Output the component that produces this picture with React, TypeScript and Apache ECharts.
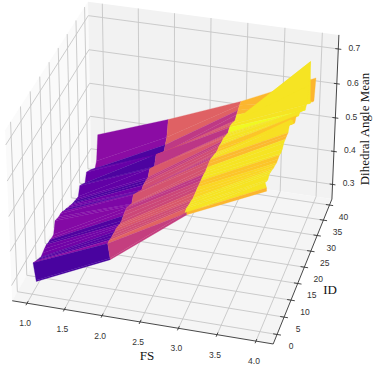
import React, { useEffect, useRef } from "react";
import * as echarts from "echarts";

const FS = [1, 2, 3, 4];
const ID_ROWS = [2.3,2.2,1,2,3,4,5,6,7,8,9,10,11,12,13,14,15,16,17,18,19,20,21,22,23,24,25,26,27,28,29,30,31,32,33,34,35,36,37,38];
const FS_TICKS = [1, 1.5, 2, 2.5, 3, 3.5, 4];
const ID_TICKS = [0, 5, 10, 15, 20, 25, 30, 35, 40];
const Z_TICKS = [0.3, 0.4, 0.5, 0.6, 0.7];
const LIM = { x: [0.8, 4.22], y: [-2.7, 42], z: [0.255, 0.74] };

const Z1 = [.27,.275,.338,.332,.326,.322,.316,.319,.322,.324,.321,.32,.317,.317,.349,.345,.342,.342,.339,.332,.329,.323,.319,.314,.31,.307,.304,.302,.326,.32,.313,.307,.331,.325,.319,.313,.305,.298,.312,.384];
const Z2 = [.37,.375,.429,.429,.427,.427,.426,.426,.423,.42,.42,.425,.428,.43,.425,.42,.414,.431,.425,.419,.413,.406,.4,.405,.405,.404,.402,.418,.411,.405,.398,.425,.417,.409,.402,.394,.386,.402,.416,.461];
const Z3 = [.533,.541,.548,.554,.551,.549,.548,.545,.546,.547,.549,.549,.55,.551,.551,.549,.552,.554,.556,.553,.549,.546,.542,.542,.544,.541,.54,.54,.536,.533,.529,.536,.536,.532,.527,.523,.531,.536,.542,.545];
const Z4 = [.632,.642,.669,.661,.657,.664,.661,.658,.654,.653,.65,.652,.654,.65,.653,.661,.663,.664,.664,.681,.683,.673,.655,.649,.66,.652,.643,.648,.639,.632,.626,.617,.625,.67,.73,.603,.6,.591,.585,.643];

const TONE_12 = [.12,.12,.3,.15,.15,.15,.22,.22,.22,.14,.14,.27,.27,.27,.26,.26,.25,.25,.15,.15,.21,.21,.21,.13,.13,.18,.18,.18,.13,.13,.13,.19,.19,.19,.13,.13,.13,.29,.29];
const TONE_23 = [.47,.47,.6,.52,.52,.52,.56,.56,.56,.5,.5,.5,.45,.45,.54,.54,.54,.54,.46,.46,.52,.52,.52,.52,.47,.47,.56,.56,.56,.44,.44,.54,.54,.54,.54,.45,.45,.59,.59];
const TONE_34 = [.84,.95,.95,.95,.95,.95,.95,.92,.92,.92,.88,.88,.95,.95,.95,.95,.85,.85,.94,.94,.94,.94,.88,.88,.95,.95,.95,.95,.95,.95,1,.95,.95,.95,.95,.96,.84,.84,.84];

const PLASMA = ["#0d0887","#41049d","#6a00a8","#8f0da4","#b12a90","#cc4778","#e16462","#f1844b","#fca636","#fcce25","#f0f921"];

function plasma(t: number) {
  const p = Math.min(0.9999, Math.max(0, t)) * (PLASMA.length - 1);
  const i = Math.floor(p);
  const f = p - i;
  const a = PLASMA[i], b = PLASMA[i + 1];
  const ch = (s: string, k: number) => parseInt(s.slice(k, k + 2), 16);
  const mix = (k: number) => Math.round(ch(a, k) * (1 - f) + ch(b, k) * f);
  return `rgb(${mix(1)},${mix(3)},${mix(5)})`;
}

// Box corners on the page, in the box's unit coordinates: camera fit for the 3D view
const CORNERS: [number, number, number, number, number][] = [
  [0, 0, 0, 12.5, 301],
  [1, 0, 0, 273, 344],
  [1, 1, 0, 332, 199],
  [0, 1, 0, 91, 163],
  [0, 0, 1, 5, 130],
  [0, 1, 1, 88, 2],
  [1, 1, 1, 339, 35],
];

function fitCamera() {
  const rows: number[][] = [];
  const rhs: number[] = [];
  for (const [X, Y, Z, u, v] of CORNERS) {
    rows.push([X, Y, Z, 1, 0, 0, 0, 0, -u * X, -u * Y, -u * Z]); rhs.push(u);
    rows.push([0, 0, 0, 0, X, Y, Z, 1, -v * X, -v * Y, -v * Z]); rhs.push(v);
  }
  const n = 11;
  const M: number[][] = [];
  for (let i = 0; i < n; i++) {
    const r: number[] = [];
    for (let j = 0; j < n; j++) r.push(rows.reduce((s, w) => s + w[i] * w[j], 0));
    r.push(rows.reduce((s, w, k) => s + w[i] * rhs[k], 0));
    M.push(r);
  }
  for (let c = 0; c < n; c++) {
    let best = c;
    for (let r = c + 1; r < n; r++) if (Math.abs(M[r][c]) > Math.abs(M[best][c])) best = r;
    [M[c], M[best]] = [M[best], M[c]];
    for (let r = 0; r < n; r++) {
      if (r === c) continue;
      const k = M[r][c] / M[c][c];
      for (let j = c; j <= n; j++) M[r][j] -= k * M[c][j];
    }
  }
  return M.map((r, i) => r[n] / r[i]);
}

const CAM = fitCamera();

function unit(x: number, y: number, z: number): [number, number] {
  const X = (x - LIM.x[0]) / (LIM.x[1] - LIM.x[0]);
  const Y = (y - LIM.y[0]) / (LIM.y[1] - LIM.y[0]);
  const Z = (z - LIM.z[0]) / (LIM.z[1] - LIM.z[0]);
  const w = CAM[8] * X + CAM[9] * Y + CAM[10] * Z + 1;
  return [
    (CAM[0] * X + CAM[1] * Y + CAM[2] * Z + CAM[3]) / w,
    (CAM[4] * X + CAM[5] * Y + CAM[6] * Z + CAM[7]) / w,
  ];
}

const [x0, x1] = LIM.x, [y0, y1] = LIM.y, [z0, z1] = LIM.z;

function poly(pts: [number, number, number][], fill: string) {
  return { type: "polygon", shape: { points: pts.map((p) => unit(p[0], p[1], p[2])) }, style: { fill, stroke: "none" }, silent: true };
}
function seg(a: [number, number, number], b: [number, number, number], stroke: string, lineWidth: number) {
  const p = unit(a[0], a[1], a[2]), q = unit(b[0], b[1], b[2]);
  return { type: "line", shape: { x1: p[0], y1: p[1], x2: q[0], y2: q[1] }, style: { stroke, lineWidth }, silent: true };
}
function label(text: string, x: number, y: number) {
  return { type: "text", x, y, silent: true, style: { text, fill: "#333", font: '8.5px "Liberation Sans"', align: "center", verticalAlign: "middle" } };
}

function buildGraphic() {
  const els: any[] = [];
  const GRID = "#c6c6c6";
  els.push(poly([[x0, y0, z0], [x0, y1, z0], [x0, y1, z1], [x0, y0, z1]], "#fafafa"));
  els.push(poly([[x0, y1, z0], [x1, y1, z0], [x1, y1, z1], [x0, y1, z1]], "#f2f2f2"));
  els.push(poly([[x0, y0, z0], [x1, y0, z0], [x1, y1, z0], [x0, y1, z0]], "#f5f5f5"));
  for (const t of FS_TICKS) {
    els.push(seg([t, y0, z0], [t, y1, z0], GRID, 0.9));
    els.push(seg([t, y1, z0], [t, y1, z1], GRID, 0.9));
    const a = unit(t, y0, z0);
    els.push(seg([t, y0 - 0.6, z0], [t, y0 + 0.6, z0], "#333", 0.9));
    els.push(label(t.toFixed(1), a[0] - 2, a[1] + 20));
  }
  for (const t of ID_TICKS) {
    els.push(seg([x0, t, z0], [x1, t, z0], GRID, 0.9));
    els.push(seg([x0, t, z0], [x0, t, z1], GRID, 0.9));
    const a = unit(x1, t, z0);
    els.push(seg([x1 - 0.05, t, z0], [x1 + 0.05, t, z0], "#333", 0.9));
    els.push(label(String(t), a[0] + 14, a[1] + 12));
  }
  for (const t of Z_TICKS) {
    els.push(seg([x0, y0, t], [x0, y1, t], GRID, 0.9));
    els.push(seg([x0, y1, t], [x1, y1, t], GRID, 0.9));
    const a = unit(x1, y1, t);
    els.push(seg([x1 - 0.04, y1, t], [x1 + 0.04, y1, t], "#333", 0.9));
    els.push(label(t.toFixed(1), a[0] + 16, a[1] - 1));
  }
  els.push(seg([x0, y0, z0], [x1, y0, z0], "#333", 0.9));
  els.push(seg([x1, y0, z0], [x1, y1, z0], "#333", 0.9));
  els.push(seg([x1, y1, z0], [x1, y1, z1], "#333", 0.9));
  const serif = '"Liberation Serif"';
  els.push({ type: "text", x: 147, y: 355, silent: true, style: { text: "FS", fill: "#111", font: `13px ${serif}`, align: "center", verticalAlign: "middle" } });
  els.push({ type: "text", x: 330, y: 289, silent: true, style: { text: "ID", fill: "#111", font: `13px ${serif}`, align: "center", verticalAlign: "middle" } });
  els.push({ type: "text", x: 364, y: 129, rotation: Math.PI / 2, silent: true, style: { text: "Dihedral Angle Mean", fill: "#111", font: `13px ${serif}`, align: "center", verticalAlign: "middle" } });
  return els;
}

function buildCells() {
  const cols = [Z1, Z2, Z3, Z4];
  const tones = [TONE_12, TONE_23, TONE_34];
  const cells: number[][] = [];
  for (let id = TONE_12.length - 1; id >= 0; id--) {
    for (let k = 0; k < tones.length; k++) {
      cells.push([FS[k], FS[k + 1], ID_ROWS[id], ID_ROWS[id + 1], cols[k][id], cols[k + 1][id], cols[k + 1][id + 1], cols[k][id + 1], tones[k][id]]);
    }
  }
  return cells;
}

export default function App() {
  const ref = useRef<HTMLDivElement>(null);
  useEffect(() => {
    document.body.style.margin = "0";
    document.body.style.background = "#fff";
    const chart = echarts.init(ref.current!, undefined, { renderer: "svg" });
    chart.setOption({
      animation: false,
      backgroundColor: "#fff",
      graphic: { elements: buildGraphic() },
      series: [
        {
          type: "custom",
          coordinateSystem: "none",
          silent: true,
          z: 5,
          data: buildCells(),
          renderItem: (_p: any, api: any) => {
            const a = api.value(0), b = api.value(1), c = api.value(2), d = api.value(3);
            const pts = [
              unit(a, c, api.value(4)),
              unit(b, c, api.value(5)),
              unit(b, d, api.value(6)),
              unit(a, d, api.value(7)),
            ];
            const fill = plasma(api.value(8));
            return { type: "polygon", shape: { points: pts }, style: { fill, stroke: fill, lineWidth: 0.3 } };
          },
        },
      ],
    });
    return () => chart.dispose();
  }, []);
  return <div ref={ref} style={{ width: 374, height: 370 }} />;
}
